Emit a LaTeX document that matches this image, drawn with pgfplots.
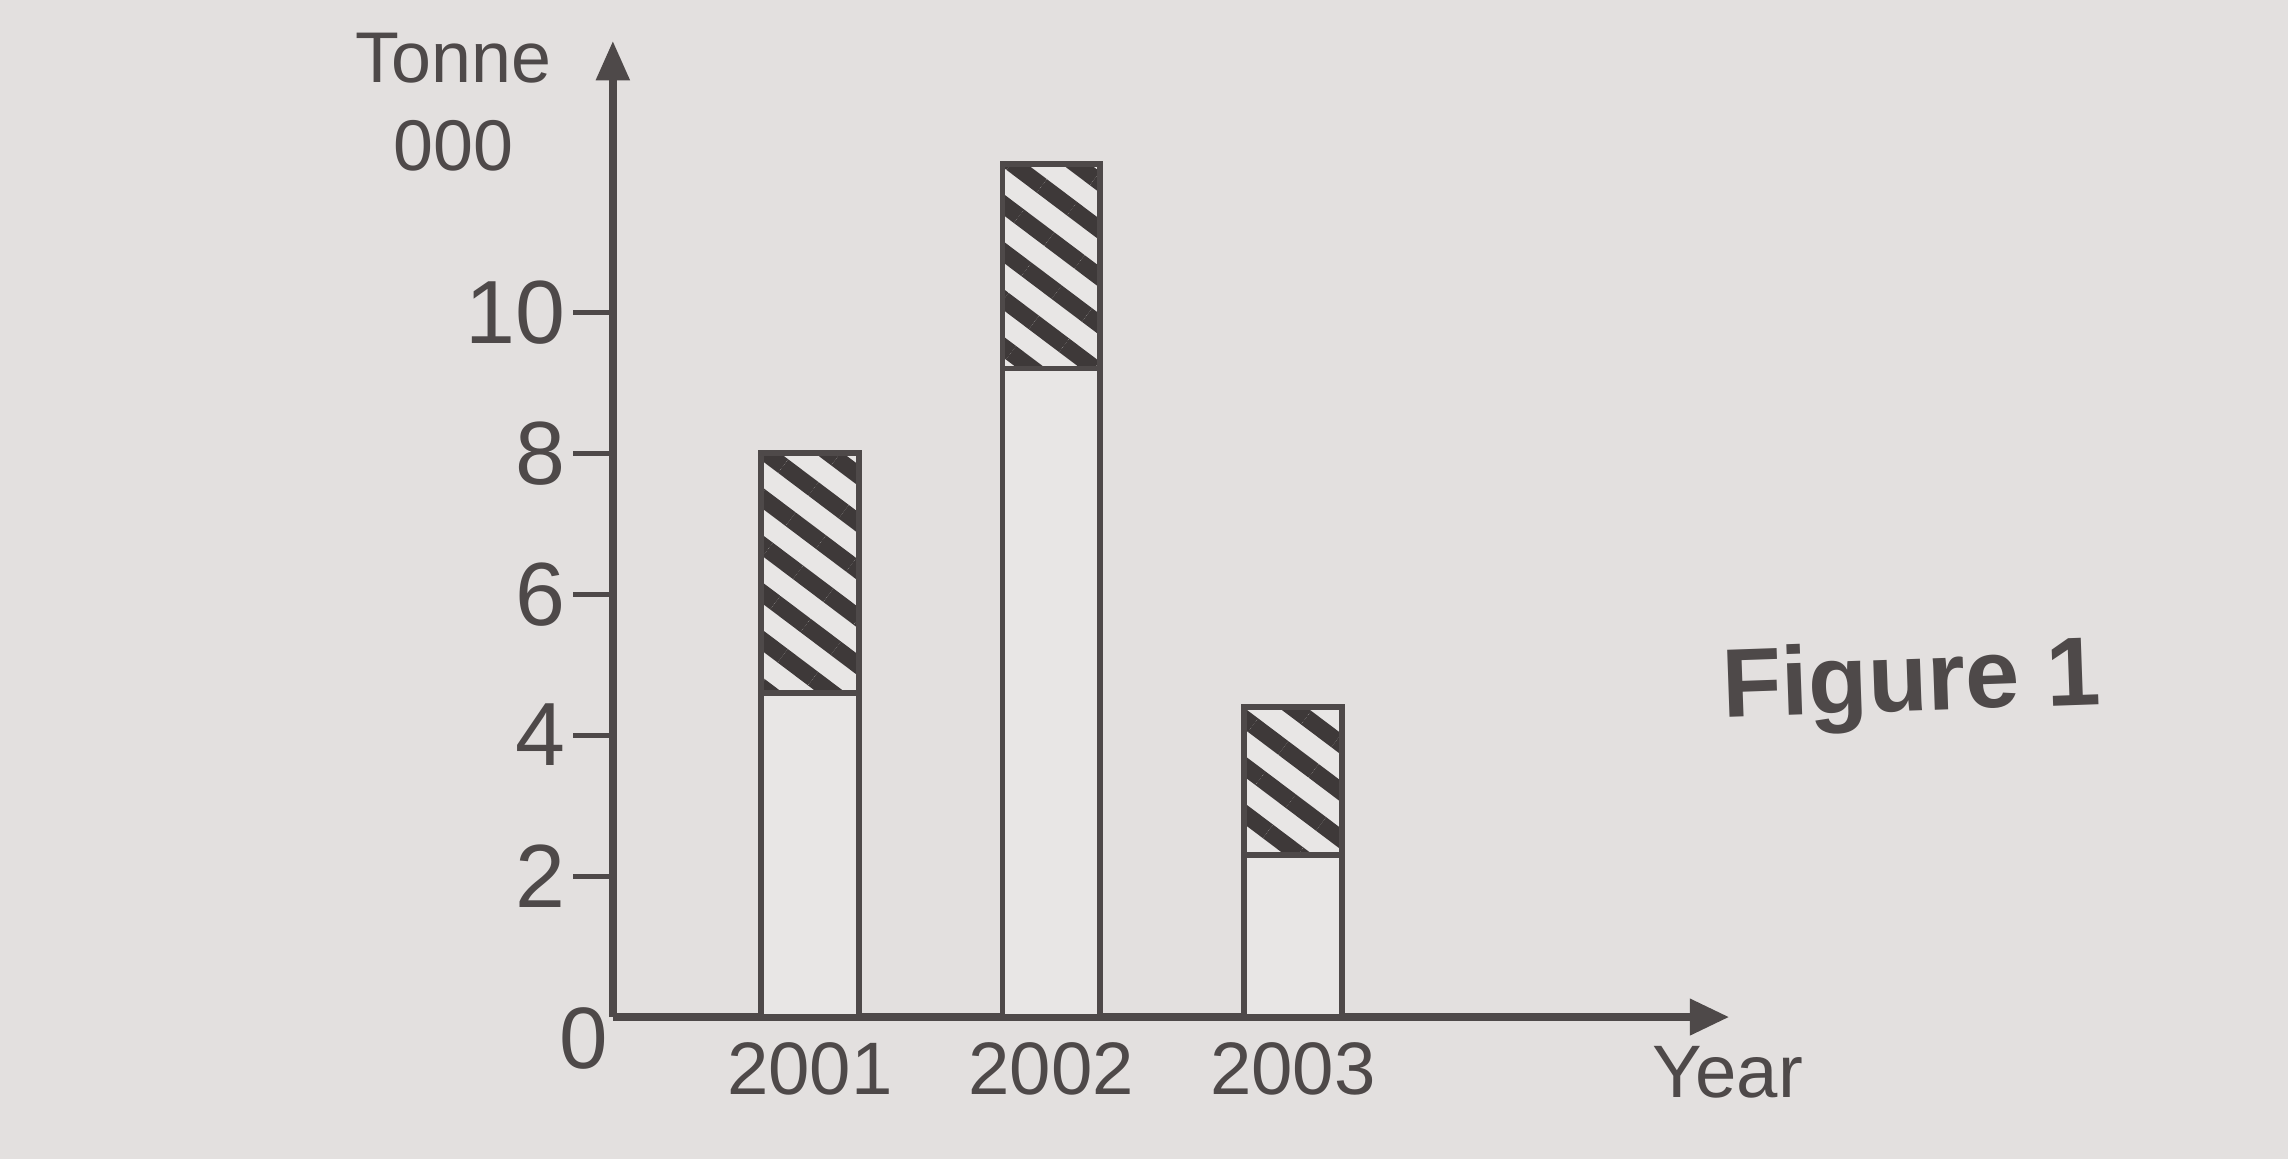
\documentclass[border=0pt]{standalone}
\usepackage{pgfplots}
\pgfplotsset{compat=1.18}
\usepackage{fontspec}
\setmainfont{Liberation Sans}
\usetikzlibrary{arrows.meta,patterns.meta}
\definecolor{paper}{RGB}{227,224,223}
\definecolor{barbg}{RGB}{232,230,229}
\definecolor{ink}{RGB}{78,73,73}
\definecolor{hatch}{RGB}{62,57,57}
\begin{document}
\begin{tikzpicture}
\fill[paper] (-4.20,-0.97) rectangle (11.48,6.97);
\begin{axis}[
  at={(0,0)}, anchor=south west,
  scale only axis, width=7.65cm, height=6.69cm,
  axis lines=left,
  xmin=-0.816, xmax=3.807, ymin=0, ymax=13.85,
  ybar stacked, bar width=0.67cm,
  xtick={0,1,2}, xticklabels={2001,2002,2003},
  ytick={2,4,6,8,10},
  x axis line style={-{Triangle[length=0.27cm,width=0.24cm]}, line width=1.5pt, draw=ink},
  y axis line style={-{Triangle[length=0.27cm,width=0.22cm]}, line width=1.5pt, draw=ink},
  tick align=outside, major tick length=0.27cm,
  xtick style={draw=none},
  ytick style={draw=ink, line width=1pt},
  ticklabel style={text=ink},
  yticklabel style={font=\fontsize{17.5}{17.5}\selectfont, xshift=0.07cm},
  xticklabel style={font=\fontsize{14.5}{14.5}\selectfont, yshift=0.22cm},
  /pgf/number format/assume math mode=true,
  clip=false,
]
\addplot[draw=ink, line width=1.1pt, fill=barbg] coordinates {(0,4.6) (1,9.2) (2,2.3)};
\addplot[draw=ink, line width=1.1pt, preaction={fill=barbg},
  pattern={Lines[angle=-37, distance=2.6mm, line width=3.3pt]}, pattern color=hatch]
  coordinates {(0,3.4) (1,2.9) (2,2.1)};
\end{axis}
\node[text=ink, align=center, font=\fontsize{14}{17}\selectfont] at (-1.09,6.27) {Tonne\\000};
\node[text=ink, font=\fontsize{17}{17}\selectfont] at (-0.20,-0.15) {0};
\node[text=ink, font=\fontsize{14.5}{14.5}\selectfont] at (7.64,-0.38) {Year};
\node[text=ink, font=\bfseries\fontsize{19}{19}\selectfont, rotate=2] at (8.90,2.27) {Figure 1};
\pgfresetboundingbox
\path (-4.20,-0.97) rectangle (11.48,6.97);
\end{tikzpicture}
\end{document}
